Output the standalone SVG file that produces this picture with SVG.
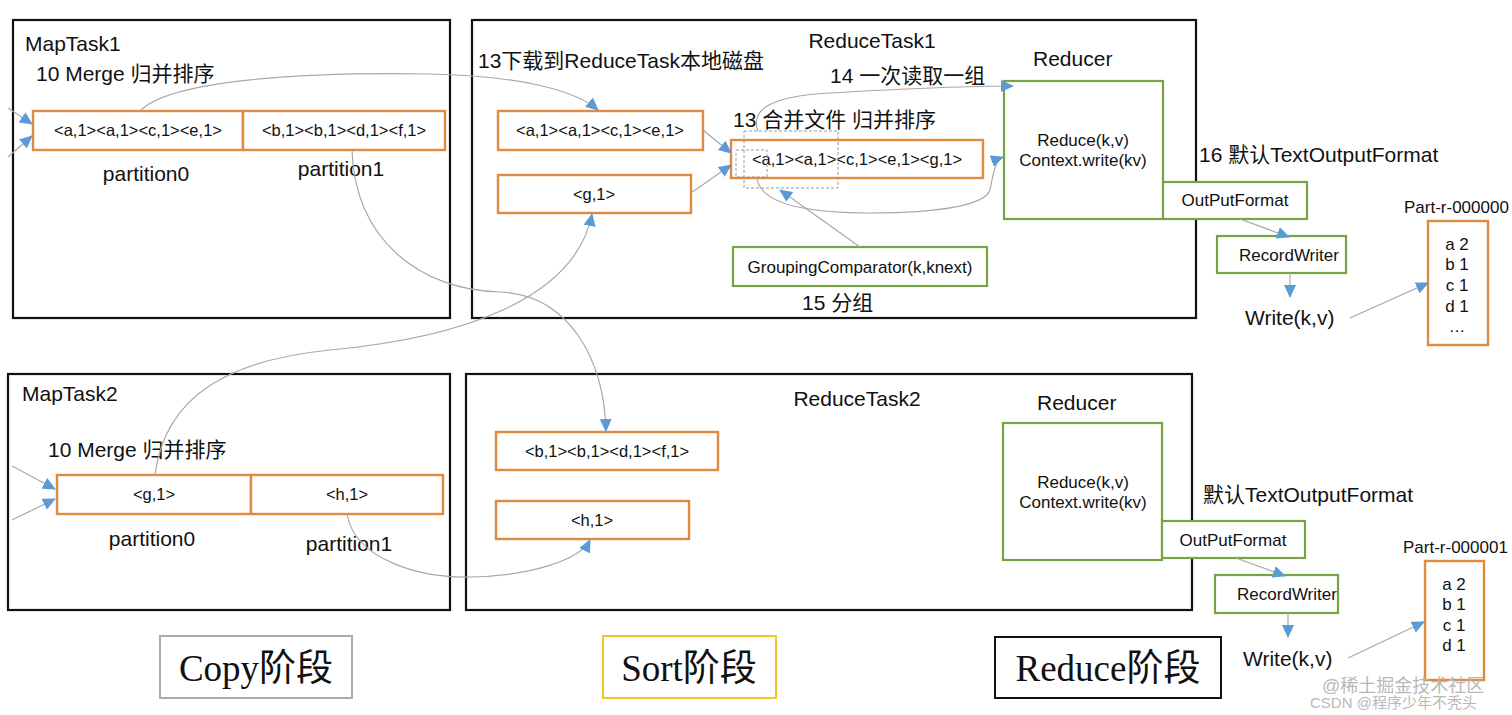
<svg xmlns="http://www.w3.org/2000/svg" width="1512" height="715" viewBox="0 0 1512 715">
<defs>
<marker id="ah" markerUnits="userSpaceOnUse" markerWidth="14" markerHeight="12" refX="12" refY="6" orient="auto">
<path d="M0,0 L13,6 L0,12 Z" fill="#5b9bd5"/>
</marker>
<style>
.frame{fill:#fff;stroke:#111;stroke-width:2.2}
.or{fill:#fff;stroke:#e0893f;stroke-width:2.4}
.gr{fill:#fff;stroke:#77a346;stroke-width:2.2}
.dash{fill:none;stroke:#9a9a9a;stroke-width:1;stroke-dasharray:3,2}
.c{fill:none;stroke:#a8a8a8;stroke-width:1.2;marker-end:url(#ah)}
text{font-family:"Liberation Sans","Noto Sans CJK SC",sans-serif;fill:#111}
.t16{font-size:16.5px}
.t17{font-size:17px}
.t21{font-size:21px}
.m{text-anchor:middle}
.ph{font-family:"Liberation Serif","Noto Sans CJK SC",serif;font-size:37px;text-anchor:middle}
.wm{fill:#b8b8b8}
</style>
</defs>

<g id="MapTask1">
<rect class="frame" x="13" y="20" width="437" height="298"/>
<text class="t21" x="25" y="51">MapTask1</text>
<text class="t21" x="36" y="81">10 Merge 归并排序</text>
<rect class="or" x="33" y="111" width="210" height="39"/>
<rect class="or" x="243" y="111" width="202" height="39"/>
<text class="t16 m" x="138" y="136">&lt;a,1&gt;&lt;a,1&gt;&lt;c,1&gt;&lt;e,1&gt;</text>
<text class="t16 m" x="344" y="136">&lt;b,1&gt;&lt;b,1&gt;&lt;d,1&gt;&lt;f,1&gt;</text>
<text class="t21 m" x="146" y="181">partition0</text>
<text class="t21 m" x="341" y="176">partition1</text>
</g>

<g id="ReduceTask1">
<rect class="frame" x="472" y="20" width="724" height="298"/>
<text class="t21 m" x="872" y="48">ReduceTask1</text>
<text class="t21" x="478" y="68">13下载到ReduceTask本地磁盘</text>
<text class="t21" x="830" y="83">14 一次读取一组</text>
<text class="t21" x="733" y="127">13 合并文件 归并排序</text>
<rect class="or" x="498" y="111" width="205" height="39"/>
<text class="t16 m" x="600" y="136">&lt;a,1&gt;&lt;a,1&gt;&lt;c,1&gt;&lt;e,1&gt;</text>
<rect class="or" x="498" y="175" width="193" height="38"/>
<text class="t16 m" x="594" y="200">&lt;g,1&gt;</text>
<rect class="or" x="731" y="140" width="252" height="38"/>
<text class="t16 m" x="857" y="165">&lt;a,1&gt;&lt;a,1&gt;&lt;c,1&gt;&lt;e,1&gt;&lt;g,1&gt;</text>
<rect class="dash" x="744" y="131" width="94" height="57"/>
<rect class="dash" x="736" y="150" width="31" height="27"/>
<rect class="gr" x="733" y="247" width="254" height="39"/>
<text class="t17 m" x="860" y="273">GroupingComparator(k,knext)</text>
<text class="t21" x="802" y="310">15 分组</text>
</g>

<g id="Reducer1">
<text class="t21" x="1033" y="66">Reducer</text>
<rect class="gr" x="1004" y="81" width="159" height="138"/>
<text class="t17 m" x="1083" y="146">Reduce(k,v)</text>
<text class="t17 m" x="1083" y="166">Context.write(kv)</text>
</g>

<g id="Output1">
<text class="t21" x="1199" y="162">16 默认TextOutputFormat</text>
<rect class="gr" x="1163" y="182" width="144" height="37"/>
<text class="t17 m" x="1235" y="206">OutPutFormat</text>
<rect class="gr" x="1217" y="236" width="129" height="37"/>
<text class="t17 m" x="1289" y="261">RecordWriter</text>
<text class="t21" x="1245" y="325">Write(k,v)</text>
<text class="t17" x="1404" y="213">Part-r-000000</text>
<rect class="or" x="1428" y="221" width="60" height="124"/>
<text class="t17 m" x="1457" y="250">a 2</text>
<text class="t17 m" x="1457" y="270">b 1</text>
<text class="t17 m" x="1457" y="291">c 1</text>
<text class="t17 m" x="1457" y="312">d 1</text>
<text class="t16 m" x="1457" y="332">…</text>
</g>

<g id="MapTask2">
<rect class="frame" x="8" y="374" width="442" height="236"/>
<text class="t21" x="22" y="401">MapTask2</text>
<text class="t21" x="48" y="457">10 Merge 归并排序</text>
<rect class="or" x="57" y="475" width="194" height="39"/>
<rect class="or" x="251" y="475" width="192" height="39"/>
<text class="t16 m" x="154" y="500">&lt;g,1&gt;</text>
<text class="t16 m" x="347" y="500">&lt;h,1&gt;</text>
<text class="t21 m" x="152" y="546">partition0</text>
<text class="t21 m" x="349" y="551">partition1</text>
</g>

<g id="ReduceTask2">
<rect class="frame" x="466" y="374" width="726" height="236"/>
<text class="t21 m" x="857" y="406">ReduceTask2</text>
<rect class="or" x="496" y="432" width="222" height="38"/>
<text class="t16 m" x="607" y="457">&lt;b,1&gt;&lt;b,1&gt;&lt;d,1&gt;&lt;f,1&gt;</text>
<rect class="or" x="496" y="501" width="193" height="38"/>
<text class="t16 m" x="592" y="526">&lt;h,1&gt;</text>
</g>

<g id="Reducer2">
<text class="t21" x="1037" y="410">Reducer</text>
<rect class="gr" x="1003" y="423" width="159" height="137"/>
<text class="t17 m" x="1083" y="488">Reduce(k,v)</text>
<text class="t17 m" x="1083" y="508">Context.write(kv)</text>
</g>

<g id="Output2">
<text class="t21" x="1203" y="502">默认TextOutputFormat</text>
<rect class="gr" x="1162" y="521" width="143" height="37"/>
<text class="t17 m" x="1233" y="546">OutPutFormat</text>
<rect class="gr" x="1215" y="575" width="123" height="38"/>
<text class="t17 m" x="1287" y="600">RecordWriter</text>
<text class="t21" x="1243" y="666">Write(k,v)</text>
<text class="t17" x="1403" y="553">Part-r-000001</text>
<rect class="or" x="1425" y="561" width="59" height="119"/>
<text class="t17 m" x="1454" y="590">a 2</text>
<text class="t17 m" x="1454" y="610">b 1</text>
<text class="t17 m" x="1454" y="631">c 1</text>
<text class="t17 m" x="1454" y="651">d 1</text>
</g>

<g id="connectors">
<path class="c" d="M8,108 L32,124"/>
<path class="c" d="M8,157 L32,136"/>
<path class="c" d="M12,466 L55,489"/>
<path class="c" d="M12,520 L55,499"/>
<path class="c" d="M140,111 C170,80 300,72 430,74 C520,76 575,90 598,110"/>
<path class="c" d="M352,150 C355,240 420,290 500,292 C570,295 604,360 606,431"/>
<path class="c" d="M155,475 C165,395 230,360 330,350 C460,338 575,300 592,214"/>
<path class="c" d="M347,514 C355,560 420,578 470,577 C530,576 580,560 590,540"/>
<path class="c" d="M703,130 L731,153"/>
<path class="c" d="M691,193 L731,165"/>
<path class="c" d="M860,247 L780,190"/>
<path class="c" d="M758,131 C750,110 770,96 830,93 C900,89 960,86 1013,86"/>
<path class="c" d="M757,178 C760,205 810,213 870,213 C940,213 985,205 990,190 C993,175 995,160 1003,157"/>
<path class="c" d="M1240,219 L1289,237"/>
<path class="c" d="M1290,273 L1290,297"/>
<path class="c" d="M1350,318 L1428,283"/>
<path class="c" d="M1236,558 L1285,576"/>
<path class="c" d="M1288,613 L1288,637"/>
<path class="c" d="M1348,658 L1424,622"/>
</g>

<g id="CopyPhase">
<rect x="160" y="636" width="192" height="62" fill="#fff" stroke="#aaa" stroke-width="2"/>
<text class="ph" x="256" y="681">Copy阶段</text>
</g>
<g id="SortPhase">
<rect x="603" y="636" width="173" height="62" fill="#fff" stroke="#f2c623" stroke-width="2"/>
<text class="ph" x="689" y="681">Sort阶段</text>
</g>
<g id="ReducePhase">
<rect x="995" y="637" width="226" height="61" fill="#fff" stroke="#111" stroke-width="2"/>
<text class="ph" x="1108" y="681">Reduce阶段</text>
</g>

<g id="watermark">
<text class="wm" x="1322" y="692" font-size="18">@稀土掘金技术社区</text>
<text class="wm" x="1310" y="708" font-size="15">CSDN @程序少年不秃头</text>
</g>
</svg>
